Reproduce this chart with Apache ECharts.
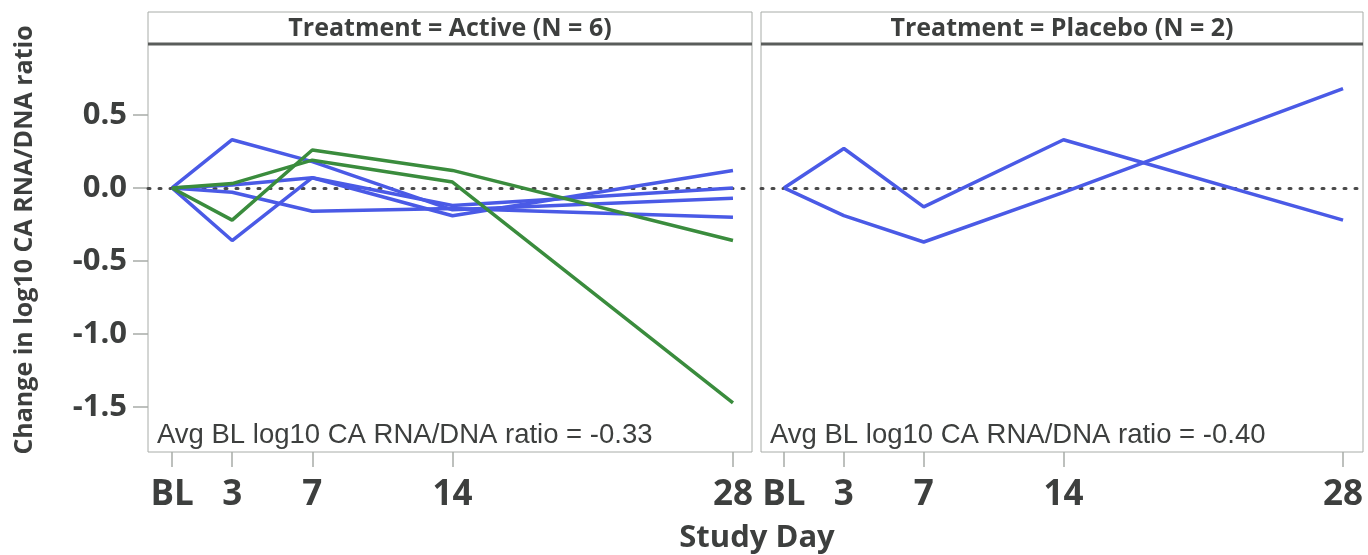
<!DOCTYPE html>
<html>
<head>
<meta charset="utf-8">
<script src="https://cdn.jsdelivr.net/npm/echarts@6/dist/echarts.min.js"></script>
<style>
  html, body { margin: 0; padding: 0; background: #fff; }
  #chart { width: 1368px; height: 555px; }
</style>
</head>
<body>
<div id="chart"></div>
<script>
// Study days (BL = day 0)
const studyDays = [0, 3, 7, 14, 28];
const dayTickLabels = ['BL', '3', '7', '14', '28'];
const yTickValues = [-1.5, -1.0, -0.5, 0.0, 0.5];

// Active arm: change from baseline per participant
const activeBlue1 = [0, 0.33, 0.18, -0.15, -0.07];
const activeBlue2 = [0, -0.36, 0.07, -0.19, 0.12];
const activeBlue3 = [0, 0.02, 0.07, -0.12, 0.00];
const activeBlue4 = [0, -0.03, -0.16, -0.14, -0.20];
const activeGreen1 = [0, -0.22, 0.26, 0.12, -0.36];
const activeGreen2 = [0, 0.03, 0.19, 0.04, -1.47];

// Placebo arm
const placebo1 = [0, 0.27, -0.13, 0.33, -0.22];
const placebo2 = [0, -0.19, -0.37, -0.03, 0.68];

const panelTitles = ['Treatment = Active (N = 6)', 'Treatment = Placebo (N = 2)'];
const avgTexts = ['Avg BL log10 CA RNA/DNA ratio = -0.33', 'Avg BL log10 CA RNA/DNA ratio = -0.40'];
const xTitle = 'Study Day';
const yTitle = 'Change in log10 CA RNA/DNA ratio';

const BLUE = '#4a5ae6';
const GREEN = '#3a8c3d';
const TEXT = '#3d3f3e';
const FRAME = '#a8aca8';
const FONT = '"Open Sans", "Noto Sans", sans-serif';

const panels = [
  { left: 148, right: 752, xMin: -1.2, xMax: 28.95 },
  { left: 761, right: 1363, xMin: -1.15, xMax: 29.0 }
];
const gridTop = 44, gridBottom = 452, stripTop = 12;

function pairs(vals) {
  return studyDays.map((d, i) => [d, vals[i]]);
}

function lineSeries(vals, color, idx, withZero) {
  const s = {
    type: 'line',
    xAxisIndex: idx,
    yAxisIndex: idx,
    data: pairs(vals),
    symbol: 'none',
    lineStyle: { color: color, width: 3.5 },
    z: 3,
    silent: true
  };
  if (withZero) {
    // dotted reference line at zero change
    s.markLine = {
      silent: true,
      symbol: 'none',
      label: { show: false },
      lineStyle: { color: '#4a4a4a', width: 3, type: [2, 9], cap: 'round' },
      data: [{ yAxis: 0 }],
      z: 2
    };
  }
  return s;
}

const grids = panels.map(p => ({
  left: p.left,
  width: p.right - p.left,
  top: gridTop,
  height: gridBottom - gridTop,
  show: true,
  borderColor: FRAME,
  borderWidth: 1,
  backgroundColor: '#fff'
}));

const xAxes = panels.map((p, i) => ({
  type: 'value',
  gridIndex: i,
  position: 'bottom',
  min: p.xMin,
  max: p.xMax,
  axisLine: { show: false, onZero: false },
  splitLine: { show: false },
  axisTick: {
    show: true,
    inside: false,
    length: 15,
    lineStyle: { color: FRAME, width: 1.5 },
    customValues: studyDays
  },
  axisLabel: {
    show: true,
    margin: 26,
    fontFamily: FONT,
    fontWeight: 'bold',
    fontSize: 35,
    color: TEXT,
    customValues: studyDays,
    formatter: v => dayTickLabels[studyDays.indexOf(v)]
  }
}));

const yAxes = panels.map((p, i) => ({
  type: 'value',
  gridIndex: i,
  position: 'left',
  min: -1.807,
  max: 0.985,
  axisLine: { show: false, onZero: false },
  splitLine: { show: false },
  axisTick: {
    show: i === 0,
    inside: false,
    length: 15,
    lineStyle: { color: FRAME, width: 1.5 },
    customValues: yTickValues
  },
  axisLabel: {
    show: i === 0,
    margin: 21,
    fontFamily: FONT,
    fontWeight: 'bold',
    fontSize: 31,
    color: TEXT,
    customValues: yTickValues,
    formatter: v => v.toFixed(1)
  }
}));

const series = [
  lineSeries(activeBlue1, BLUE, 0, true),
  lineSeries(activeBlue2, BLUE, 0),
  lineSeries(activeBlue3, BLUE, 0),
  lineSeries(activeBlue4, BLUE, 0),
  lineSeries(activeGreen1, GREEN, 0),
  lineSeries(activeGreen2, GREEN, 0),
  lineSeries(placebo1, BLUE, 1, true),
  lineSeries(placebo2, BLUE, 1)
];

// Panel header strips, bottom annotations and axis titles
const graphics = [];
panels.forEach((p, i) => {
  graphics.push({
    type: 'rect',
    shape: { x: p.left, y: stripTop, width: p.right - p.left, height: gridTop - stripTop },
    style: { fill: '#fff', stroke: FRAME, lineWidth: 1 },
    z: 1
  });
  graphics.push({
    type: 'line',
    shape: { x1: p.left, y1: gridTop, x2: p.right, y2: gridTop },
    style: { stroke: '#5a5d5b', lineWidth: 3 },
    z: 2
  });
  graphics.push({
    type: 'text',
    x: (p.left + p.right) / 2,
    y: (stripTop + gridTop) / 2 + 1,
    style: {
      text: panelTitles[i],
      align: 'center',
      verticalAlign: 'middle',
      font: 'bold 25px ' + FONT,
      fill: TEXT
    },
    z: 3
  });
  graphics.push({
    type: 'text',
    x: p.left + 9,
    y: 435,
    style: {
      text: avgTexts[i],
      align: 'left',
      verticalAlign: 'middle',
      font: '27.5px "Liberation Sans", Arial, sans-serif',
      fill: TEXT
    },
    z: 3
  });
});
graphics.push({
  type: 'text',
  x: 757,
  y: 538,
  style: {
    text: xTitle,
    align: 'center',
    verticalAlign: 'middle',
    font: 'bold 31px ' + FONT,
    fill: TEXT
  },
  z: 3
});
graphics.push({
  type: 'text',
  x: 25,
  y: 240,
  rotation: Math.PI / 2,
  style: {
    text: yTitle,
    align: 'center',
    verticalAlign: 'middle',
    font: 'bold 25px ' + FONT,
    fill: TEXT
  },
  z: 3
});

const chart = echarts.init(document.getElementById('chart'), null, { renderer: 'canvas' });
chart.setOption({
  animation: false,
  backgroundColor: '#fff',
  grid: grids,
  xAxis: xAxes,
  yAxis: yAxes,
  series: series,
  graphic: graphics
});
</script>
</body>
</html>
